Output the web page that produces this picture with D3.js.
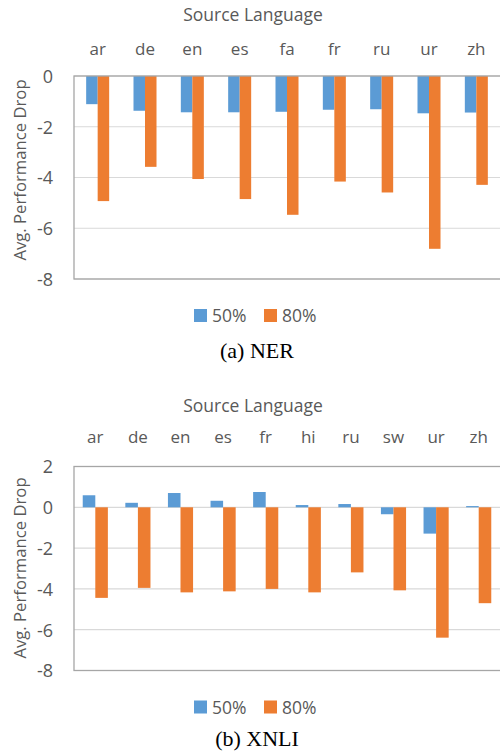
<!DOCTYPE html>
<html>
<head>
<meta charset="utf-8">
<script src="https://cdn.jsdelivr.net/npm/d3@7"></script>
<style>
  html, body { margin: 0; padding: 0; background: #fff; }
  svg { display: block; }
</style>
</head>
<body>
<svg id="chart" width="500" height="751"></svg>
<script>
// ---- Data ----
const nerCategories = ["ar", "de", "en", "es", "fa", "fr", "ru", "ur", "zh"];
const ner50 = [-1.11, -1.37, -1.43, -1.43, -1.41, -1.33, -1.31, -1.47, -1.44];
const ner80 = [-4.93, -3.58, -4.06, -4.85, -5.47, -4.16, -4.59, -6.81, -4.29];
const nerTicks = [0, -2, -4, -6, -8];

const xnliCategories = ["ar", "de", "en", "es", "fr", "hi", "ru", "sw", "ur", "zh"];
const xnli50 = [0.59, 0.22, 0.70, 0.32, 0.75, 0.11, 0.16, -0.34, -1.29, 0.06];
const xnli80 = [-4.44, -3.95, -4.17, -4.12, -4.00, -4.17, -3.19, -4.07, -6.39, -4.70];
const xnliTicks = [2, 0, -2, -4, -6, -8];

const seriesNames = ["50%", "80%"];
const colors = ["#5B9BD5", "#ED7D31"];
const xTitle = "Source Language";
const yTitle = "Avg. Performance Drop";

const svg = d3.select("#chart");
const font = "'Open Sans', sans-serif";
const textColor = "#595959";

function drawChart(opt) {
  const g = svg.append("g");
  const left = 74, right = 500;
  const x0 = d3.scaleBand().domain(opt.categories).range([left, right])
    .paddingInner(opt.pad).paddingOuter(opt.pad / 2);
  const x1 = d3.scaleBand().domain(seriesNames).range([0, x0.bandwidth()]);
  const y = d3.scaleLinear().domain(opt.domain).range([opt.bottom, opt.top]);

  // gridlines
  g.selectAll("line.grid").data(opt.ticks).enter().append("line")
    .attr("x1", left).attr("x2", right)
    .attr("y1", d => y(d)).attr("y2", d => y(d))
    .attr("stroke", "#D9D9D9").attr("stroke-width", 1.2);

  // bars
  const rows = opt.categories.map((c, i) => ({ c, vals: [opt.s1[i], opt.s2[i]] }));
  const grp = g.selectAll("g.cat").data(rows).enter().append("g")
    .attr("transform", d => `translate(${x0(d.c)},0)`);
  grp.selectAll("rect").data(d => d.vals.map((v, k) => ({ v, k })))
    .enter().append("rect")
    .attr("x", d => x1(seriesNames[d.k]))
    .attr("width", x1.bandwidth())
    .attr("y", d => Math.min(y(d.v), y(0)))
    .attr("height", d => Math.abs(y(d.v) - y(0)))
    .attr("fill", d => colors[d.k]);

  // plot border
  g.append("rect").attr("x", left).attr("y", opt.top)
    .attr("width", right - left + 5).attr("height", opt.bottom - opt.top)
    .attr("fill", "none").attr("stroke", "#A6A6A6").attr("stroke-width", 1.3);

  // y axis tick labels
  const yAxis = d3.axisLeft(y).tickValues(opt.ticks).tickSize(0).tickPadding(0)
    .tickFormat(d => String(d));
  const ya = g.append("g").attr("transform", `translate(${left - 21},0)`).call(yAxis);
  ya.select(".domain").remove();
  ya.selectAll("text").attr("font-family", font).attr("font-size", 18)
    .attr("fill", textColor).attr("dy", "0.35em");

  // x axis category labels (top)
  const xAxis = d3.axisTop(x0).tickSize(0).tickPadding(0);
  const xa = g.append("g").attr("transform", `translate(0,${opt.catY})`).call(xAxis);
  xa.select(".domain").remove();
  xa.selectAll("text").attr("font-family", font).attr("font-size", 17)
    .attr("fill", textColor).attr("dy", 0);

  // x title
  g.append("text").attr("x", 253).attr("y", opt.titleY)
    .attr("text-anchor", "middle").attr("font-family", font).attr("font-size", 17.5)
    .attr("fill", textColor).text(xTitle);

  // y title
  g.append("text")
    .attr("transform", `translate(26,${opt.yTitleC}) rotate(-90)`)
    .attr("text-anchor", "middle").attr("font-family", font).attr("font-size", 16.7)
    .attr("fill", textColor).text(yTitle);

  // legend
  const lx = [194, 264];
  seriesNames.forEach((s, k) => {
    g.append("rect").attr("x", lx[k]).attr("y", opt.legY).attr("width", 13).attr("height", 13)
      .attr("fill", colors[k]);
    g.append("text").attr("x", lx[k] + 18).attr("y", opt.legY + 13)
      .attr("font-family", font).attr("font-size", 17.5).attr("fill", textColor).text(s);
  });

  // caption
  g.append("text").attr("x", 257).attr("y", opt.capY).attr("text-anchor", "middle")
    .attr("font-family", "'Liberation Serif', 'Times New Roman', serif").attr("font-size", 22)
    .attr("fill", "#000").text(opt.caption);
}

drawChart({
  categories: nerCategories, s1: ner50, s2: ner80, ticks: nerTicks,
  domain: [-8, 0], top: 76, bottom: 279, pad: 0.514, yTitleC: 170,
  catY: 55, titleY: 21, legY: 309, capY: 358, caption: "(a) NER"
});

drawChart({
  categories: xnliCategories, s1: xnli50, s2: xnli80, ticks: xnliTicks,
  domain: [-8, 2], top: 466.5, bottom: 670.5, pad: 0.41, yTitleC: 568,
  catY: 443, titleY: 412, legY: 700.5, capY: 746, caption: "(b) XNLI"
});
</script>
</body>
</html>
